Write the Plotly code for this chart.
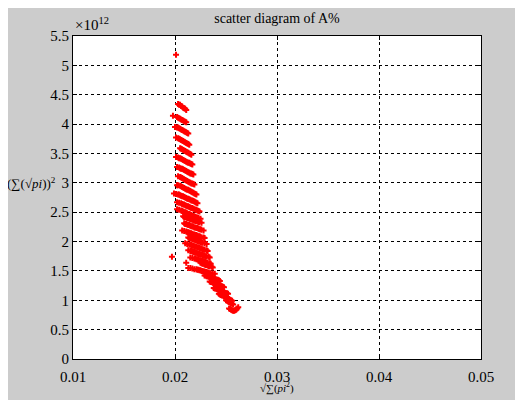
import plotly.graph_objects as go

# ---- data (y in units of 1e12) ----
outlier_x = [0.0201, 0.0198, 0.0197, 0.0211]
outlier_y = [5.18, 4.14, 1.74, 1.64]

upper_x = [0.0203, 0.0204, 0.0205, 0.0206, 0.0207, 0.0208, 0.0209, 0.0210, 0.0211,
           0.0202, 0.0203, 0.0204, 0.0205, 0.0206, 0.0207, 0.0208, 0.0209, 0.0210, 0.0211,
           0.0200, 0.0202, 0.0203, 0.0204, 0.0205, 0.0206, 0.0207, 0.0208, 0.0209, 0.0210, 0.0211, 0.0212, 0.0213,
           0.0201, 0.0203, 0.0204, 0.0205, 0.0206, 0.0207, 0.0208, 0.0209, 0.0210, 0.0211, 0.0212, 0.0213, 0.0214,
           0.0205, 0.0206, 0.0207, 0.0208, 0.0209, 0.0210, 0.0211, 0.0212, 0.0213, 0.0214, 0.0215, 0.0216]
upper_y = [4.34, 4.33, 4.33, 4.31, 4.30, 4.28, 4.27, 4.26, 4.24,
           4.12, 4.11, 4.10, 4.09, 4.08, 4.07, 4.06, 4.05, 4.04, 4.03,
           3.95, 3.94, 3.94, 3.93, 3.92, 3.91, 3.90, 3.89, 3.88, 3.87, 3.86, 3.85, 3.84,
           3.77, 3.76, 3.75, 3.74, 3.73, 3.72, 3.71, 3.70, 3.69, 3.68, 3.67, 3.66, 3.65,
           3.59, 3.58, 3.57, 3.56, 3.55, 3.54, 3.53, 3.52, 3.51, 3.50, 3.49, 3.48]

middle_x = [0.0201, 0.0203, 0.0204, 0.0205, 0.0206, 0.0207, 0.0208, 0.0209, 0.0210, 0.0211, 0.0212, 0.0213, 0.0214, 0.0215, 0.0216, 0.0217,
            0.0202, 0.0204, 0.0205, 0.0206, 0.0207, 0.0208, 0.0209, 0.0210, 0.0211, 0.0212, 0.0213, 0.0214, 0.0215, 0.0216, 0.0217, 0.0218,
            0.0203, 0.0205, 0.0206, 0.0207, 0.0208, 0.0209, 0.0210, 0.0211, 0.0212, 0.0213, 0.0214, 0.0215, 0.0216, 0.0217, 0.0218, 0.0219,
            0.0202, 0.0203, 0.0205, 0.0206, 0.0207, 0.0208, 0.0209, 0.0210, 0.0211, 0.0212, 0.0213, 0.0214, 0.0215, 0.0216, 0.0217, 0.0218, 0.0219, 0.0220, 0.0221,
            0.0199, 0.0201, 0.0203, 0.0204, 0.0205, 0.0206, 0.0207, 0.0208, 0.0209, 0.0210, 0.0211, 0.0212, 0.0213, 0.0214, 0.0215, 0.0216, 0.0217, 0.0218, 0.0219, 0.0220, 0.0221, 0.0222,
            0.0202, 0.0204, 0.0206, 0.0207, 0.0208, 0.0209, 0.0210, 0.0211, 0.0212, 0.0213, 0.0214, 0.0215, 0.0216, 0.0217, 0.0218, 0.0219, 0.0220, 0.0221, 0.0222, 0.0223, 0.0224,
            0.0202, 0.0204, 0.0206, 0.0207, 0.0208, 0.0209, 0.0210, 0.0211, 0.0212, 0.0213, 0.0214, 0.0215, 0.0216, 0.0217, 0.0218, 0.0219, 0.0220, 0.0221, 0.0222, 0.0223, 0.0225]
middle_y = [3.44, 3.43, 3.42, 3.42, 3.41, 3.40, 3.39, 3.38, 3.37, 3.36, 3.35, 3.34, 3.34, 3.33, 3.32, 3.31,
            3.27, 3.26, 3.25, 3.24, 3.24, 3.23, 3.22, 3.21, 3.20, 3.19, 3.18, 3.17, 3.16, 3.16, 3.15, 3.14,
            3.11, 3.10, 3.09, 3.08, 3.07, 3.06, 3.05, 3.04, 3.03, 3.02, 3.01, 3.00, 2.99, 2.99, 2.98, 2.97,
            2.96, 2.96, 2.95, 2.94, 2.93, 2.92, 2.91, 2.90, 2.89, 2.88, 2.88, 2.87, 2.86, 2.85, 2.84, 2.83, 2.82, 2.81, 2.80,
            2.82, 2.81, 2.80, 2.80, 2.79, 2.78, 2.77, 2.77, 2.76, 2.75, 2.74, 2.73, 2.73, 2.72, 2.71, 2.70, 2.70, 2.69, 2.68, 2.67, 2.66, 2.65,
            2.67, 2.66, 2.65, 2.64, 2.63, 2.63, 2.62, 2.61, 2.60, 2.60, 2.59, 2.58, 2.57, 2.57, 2.56, 2.55, 2.54, 2.54, 2.53, 2.52, 2.51,
            2.55, 2.54, 2.53, 2.52, 2.51, 2.50, 2.50, 2.49, 2.48, 2.47, 2.47, 2.46, 2.45, 2.44, 2.44, 2.43, 2.42, 2.41, 2.41, 2.40, 2.39]

lower_x = [0.0208, 0.0209, 0.0210, 0.0211, 0.0212, 0.0213, 0.0214, 0.0215, 0.0216, 0.0217, 0.0218, 0.0219, 0.0220, 0.0221, 0.0222, 0.0223, 0.0224, 0.0226,
           0.0209, 0.0210, 0.0211, 0.0212, 0.0213, 0.0214, 0.0215, 0.0216, 0.0217, 0.0218, 0.0219, 0.0220, 0.0221, 0.0222, 0.0223, 0.0224, 0.0225, 0.0226, 0.0228,
           0.0207, 0.0209, 0.0211, 0.0212, 0.0213, 0.0214, 0.0215, 0.0216, 0.0217, 0.0218, 0.0219, 0.0220, 0.0221, 0.0222, 0.0223, 0.0224, 0.0225, 0.0226, 0.0228, 0.0229,
           0.0213, 0.0214, 0.0215, 0.0216, 0.0217, 0.0218, 0.0219, 0.0220, 0.0221, 0.0222, 0.0223, 0.0224, 0.0225, 0.0226, 0.0227, 0.0229, 0.0231,
           0.0210, 0.0212, 0.0214, 0.0215, 0.0216, 0.0217, 0.0218, 0.0219, 0.0220, 0.0221, 0.0222, 0.0223, 0.0224, 0.0225, 0.0226, 0.0227, 0.0228, 0.0229, 0.0231, 0.0232,
           0.0213, 0.0215, 0.0216, 0.0217, 0.0218, 0.0219, 0.0220, 0.0221, 0.0222, 0.0223, 0.0224, 0.0225, 0.0226, 0.0227, 0.0228, 0.0229, 0.0230, 0.0231, 0.0233, 0.0234,
           0.0215, 0.0217, 0.0219, 0.0220, 0.0221, 0.0222, 0.0223, 0.0224, 0.0225, 0.0226, 0.0227, 0.0228, 0.0229, 0.0230, 0.0231, 0.0232, 0.0234, 0.0235,
           0.0225, 0.0226, 0.0227, 0.0228, 0.0229, 0.0230, 0.0231, 0.0232, 0.0233, 0.0234, 0.0236, 0.0237,
           0.0213, 0.0215, 0.0217, 0.0219, 0.0221, 0.0222, 0.0223, 0.0224, 0.0225, 0.0226, 0.0227, 0.0228, 0.0229, 0.0230, 0.0231, 0.0232, 0.0233, 0.0234, 0.0235, 0.0237, 0.0239]
lower_y = [2.43, 2.42, 2.42, 2.41, 2.40, 2.40, 2.39, 2.38, 2.38, 2.37, 2.36, 2.36, 2.35, 2.35, 2.34, 2.33, 2.33, 2.32,
           2.31, 2.30, 2.30, 2.29, 2.28, 2.28, 2.27, 2.26, 2.26, 2.25, 2.24, 2.24, 2.23, 2.23, 2.22, 2.21, 2.21, 2.20, 2.19,
           2.19, 2.18, 2.17, 2.16, 2.16, 2.15, 2.14, 2.14, 2.13, 2.12, 2.12, 2.11, 2.11, 2.10, 2.09, 2.09, 2.08, 2.07, 2.07, 2.06,
           2.07, 2.06, 2.06, 2.05, 2.04, 2.04, 2.03, 2.02, 2.02, 2.01, 2.00, 2.00, 1.99, 1.99, 1.98, 1.97, 1.96,
           1.97, 1.96, 1.95, 1.95, 1.94, 1.93, 1.93, 1.92, 1.91, 1.91, 1.90, 1.90, 1.89, 1.88, 1.88, 1.87, 1.86, 1.86, 1.85, 1.84,
           1.85, 1.84, 1.84, 1.83, 1.82, 1.82, 1.81, 1.81, 1.80, 1.79, 1.79, 1.78, 1.78, 1.77, 1.76, 1.76, 1.75, 1.75, 1.74, 1.73,
           1.73, 1.72, 1.71, 1.71, 1.70, 1.70, 1.69, 1.68, 1.68, 1.67, 1.67, 1.66, 1.66, 1.65, 1.64, 1.64, 1.63, 1.62,
           1.64, 1.63, 1.62, 1.62, 1.61, 1.60, 1.60, 1.59, 1.58, 1.58, 1.57, 1.56,
           1.55, 1.55, 1.54, 1.53, 1.53, 1.52, 1.52, 1.51, 1.51, 1.50, 1.50, 1.49, 1.49, 1.48, 1.48, 1.47, 1.47, 1.46, 1.46, 1.45, 1.45]

tail_x = [0.0229, 0.0230, 0.0231, 0.0232, 0.0233, 0.0234, 0.0235, 0.0236, 0.0237, 0.0238, 0.0239, 0.0240, 0.0241, 0.0242, 0.0243, 0.0244,
          0.0234, 0.0235, 0.0236, 0.0237, 0.0238, 0.0239, 0.0240, 0.0241, 0.0242, 0.0243, 0.0244, 0.0245, 0.0246, 0.0247, 0.0248,
          0.0238, 0.0239, 0.0240, 0.0241, 0.0242, 0.0243, 0.0244, 0.0245, 0.0246, 0.0247, 0.0248, 0.0249, 0.0250, 0.0251, 0.0252,
          0.0243, 0.0244, 0.0245, 0.0246, 0.0247, 0.0248, 0.0249, 0.0250, 0.0251, 0.0252, 0.0253, 0.0254, 0.0255, 0.0256,
          0.0250, 0.0251, 0.0252, 0.0253, 0.0254, 0.0255, 0.0256, 0.0257,
          0.0253, 0.0254, 0.0255, 0.0256, 0.0257, 0.0258, 0.0259, 0.0260, 0.0261, 0.0262]
tail_y = [1.42, 1.42, 1.41, 1.41, 1.40, 1.40, 1.39, 1.38, 1.38, 1.37, 1.37, 1.36, 1.35, 1.35, 1.34, 1.33,
          1.32, 1.31, 1.31, 1.30, 1.29, 1.29, 1.28, 1.27, 1.27, 1.26, 1.25, 1.25, 1.24, 1.23, 1.22,
          1.21, 1.20, 1.20, 1.19, 1.18, 1.17, 1.17, 1.16, 1.15, 1.15, 1.14, 1.13, 1.12, 1.12, 1.11,
          1.11, 1.10, 1.09, 1.08, 1.08, 1.07, 1.06, 1.05, 1.04, 1.03, 1.02, 1.01, 1.00, 0.99,
          1.00, 0.99, 0.98, 0.97, 0.96, 0.95, 0.94, 0.93,
          0.86, 0.85, 0.84, 0.83, 0.82, 0.82, 0.83, 0.84, 0.86, 0.88]

x_ticks = [0.01, 0.02, 0.03, 0.04, 0.05]
x_tick_labels = ["0.01", "0.02", "0.03", "0.04", "0.05"]
y_ticks = [0, 0.5, 1, 1.5, 2, 2.5, 3, 3.5, 4, 4.5, 5, 5.5]
y_tick_labels = ["0", "0.5", "1", "1.5", "2", "2.5", "3", "3.5", "4", "4.5", "5", "5.5"]

all_x = outlier_x + upper_x + middle_x + lower_x + tail_x
all_y = outlier_y + upper_y + middle_y + lower_y + tail_y

FONT = "Liberation Serif, Times New Roman, serif"

fig = go.Figure()
fig.add_trace(go.Scatter(
    x=all_x, y=all_y, mode="markers",
    marker=dict(symbol="cross", size=5, color="#ff0000", line=dict(width=0)),
    showlegend=False,
))

axis_common = dict(
    showline=True, linecolor="black", linewidth=1, mirror="ticks",
    ticks="inside", ticklen=4, tickcolor="black",
    showgrid=True, gridcolor="black", gridwidth=1, griddash="3px,3px",
    zeroline=False, tickfont=dict(family=FONT, size=15, color="black"),
)

fig.update_xaxes(range=[0.01, 0.05], tickvals=x_ticks, ticktext=x_tick_labels,
                 ticklabelstandoff=4, **axis_common)
fig.update_yaxes(range=[0, 5.5], tickvals=y_ticks, ticktext=y_tick_labels, **axis_common)

fig.update_layout(
    width=523, height=400,
    margin=dict(l=65, r=50, t=28, b=49, autoexpand=False),
    paper_bgcolor="#cccccc", plot_bgcolor="white",
    font=dict(family=FONT, color="black"),
    title=dict(text="scatter diagram of A%", x=0.5, xref="paper", xanchor="center",
               y=1 - 10 / 400, yref="container", yanchor="middle",
               font=dict(family=FONT, size=14, color="black")),
    annotations=[
        dict(text="×10<sup>12</sup>", xref="paper", yref="paper", x=0.0, y=1.0,
             xanchor="left", yanchor="bottom", yshift=1, showarrow=False,
             font=dict(family=FONT, size=15, color="black")),
        dict(text="(∑(√<i>pi</i>))<sup>2</sup>", xref="paper", yref="y", x=-0.167, y=3.0,
             xanchor="left", yanchor="middle", showarrow=False,
             font=dict(family=FONT, size=13, color="black")),
        dict(text="√∑(<i>pi</i><sup>2</sup>)", xref="paper", yref="paper", x=0.5, y=0.0,
             xanchor="center", yanchor="middle", yshift=-28, showarrow=False,
             font=dict(family=FONT, size=11, color="black")),
    ],
)

fig.write_html("out.html")
